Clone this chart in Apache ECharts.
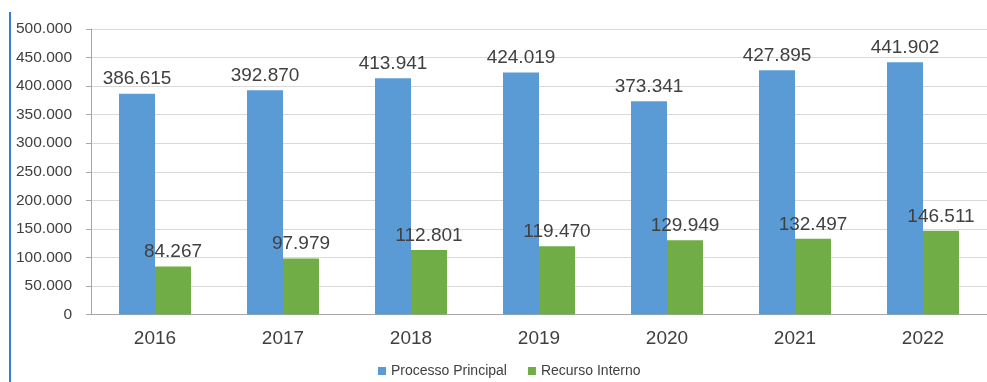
<!DOCTYPE html>
<html>
<head>
<meta charset="utf-8">
<script src="https://cdn.jsdelivr.net/npm/echarts@6/dist/echarts.min.js"></script>
<style>
  html, body { margin: 0; padding: 0; background: #fff; }
  #chart { width: 987px; height: 382px; }
</style>
</head>
<body>
<div id="chart"></div>
<script>
// Yearly totals for main proceedings and internal appeals
const years = ['2016', '2017', '2018', '2019', '2020', '2021', '2022'];
const processoPrincipal = [386615, 392870, 413941, 424019, 373341, 427895, 441902];
const recursoInterno = [84267, 97979, 112801, 119470, 129949, 132497, 146511];
const yTicks = { min: 0, max: 500000, interval: 50000 };

// Thousands separated by dots: 386615 -> "386.615"
function fmt(v) {
  return String(Math.round(v)).replace(/\B(?=(\d{3})+(?!\d))/g, '.');
}

const textColor = '#404040';
const font = 'Liberation Sans, Arial, sans-serif';

const valueLabel = {
  show: true, position: 'top', distance: 5,
  color: textColor, fontSize: 19, fontFamily: font,
  formatter: p => fmt(p.value)
};

const chart = echarts.init(document.getElementById('chart'), null, { renderer: 'canvas' });
chart.setOption({
  animation: false,
  backgroundColor: '#ffffff',
  textStyle: { fontFamily: font },
  graphic: [{
    type: 'line',
    shape: { x1: 10, y1: 12, x2: 10, y2: 382 },
    style: { stroke: '#2f7fd3', lineWidth: 2 }
  }],
  grid: { left: 91, right: -5, top: 29, bottom: 67.5, containLabel: false },
  legend: {
    top: 359,
    left: 373,
    itemWidth: 8,
    itemHeight: 8,
    itemGap: 21,
    icon: 'rect',
    textStyle: { color: textColor, fontSize: 14, fontFamily: font },
    data: ['Processo Principal', 'Recurso Interno']
  },
  xAxis: {
    type: 'category',
    data: years,
    axisLine: { lineStyle: { color: '#a6a6a6', width: 1 } },
    axisTick: { show: false },
    axisLabel: { color: textColor, fontSize: 19, margin: 15, fontFamily: font }
  },
  yAxis: {
    type: 'value',
    min: yTicks.min,
    max: yTicks.max,
    interval: yTicks.interval,
    axisLine: { show: true, lineStyle: { color: '#a6a6a6', width: 1 } },
    axisTick: { show: true, length: 5, lineStyle: { color: '#a6a6a6' } },
    axisLabel: { color: textColor, fontSize: 15.5, margin: 19, fontFamily: font, formatter: fmt },
    splitLine: { lineStyle: { color: '#d9d9d9', width: 1 } }
  },
  series: [
    {
      name: 'Processo Principal',
      type: 'bar',
      barWidth: 36,
      barGap: '0%',
      itemStyle: { color: '#5b9bd5' },
      label: valueLabel,
      data: processoPrincipal
    },
    {
      name: 'Recurso Interno',
      type: 'bar',
      barWidth: 36,
      itemStyle: { color: '#70ad47' },
      label: valueLabel,
      data: recursoInterno
    }
  ]
});
</script>
</body>
</html>
